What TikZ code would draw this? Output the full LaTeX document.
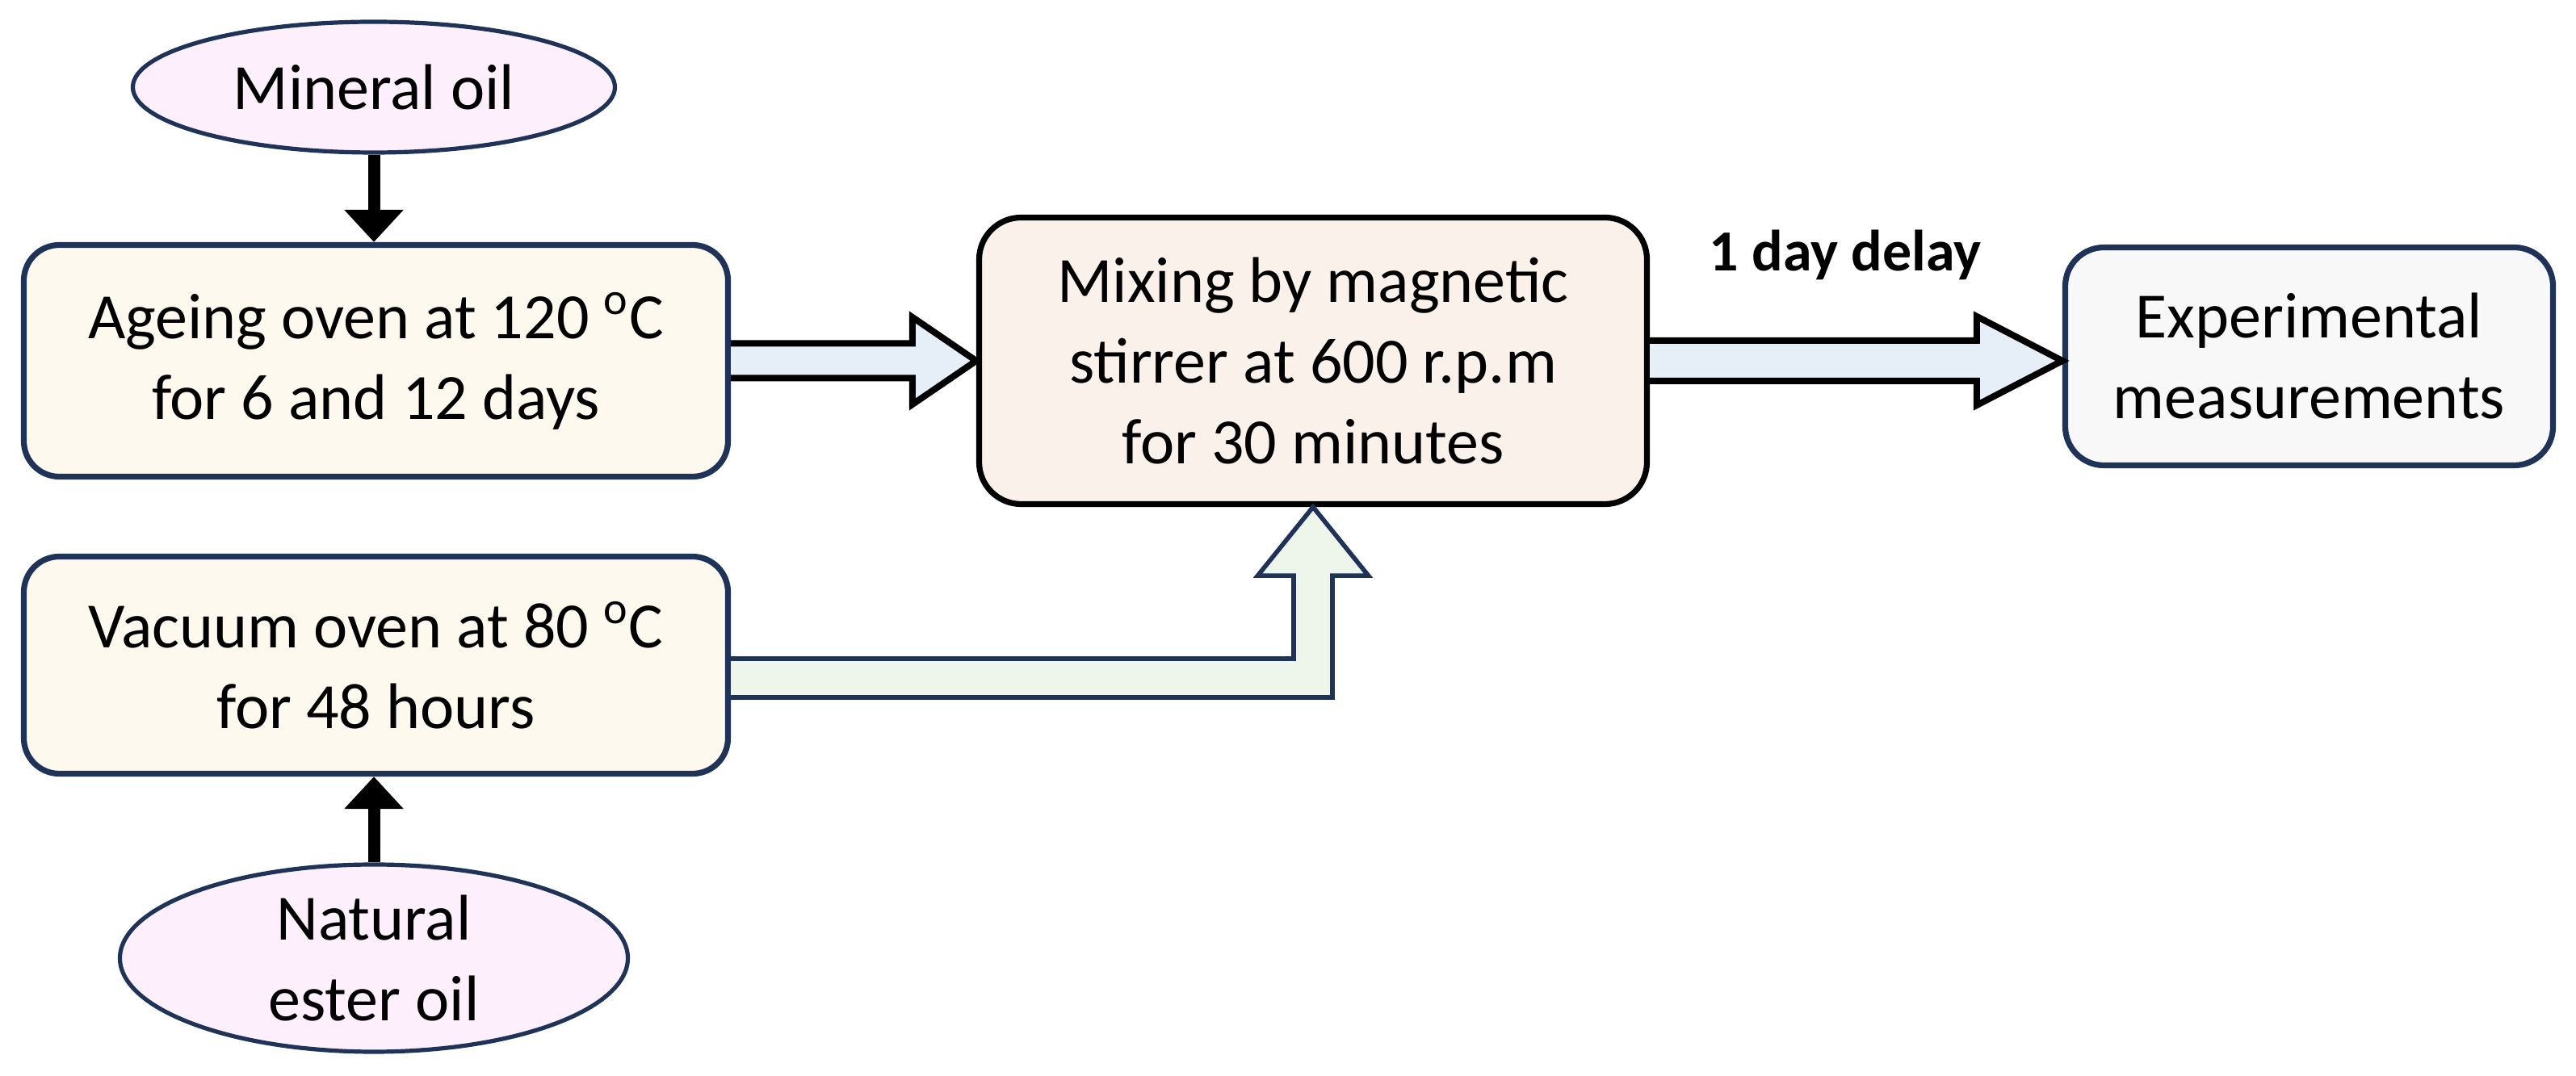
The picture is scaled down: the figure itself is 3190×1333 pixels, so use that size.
\documentclass[tikz,border=0pt]{standalone}
\usepackage{fontspec}
\setmainfont{Carlito}
\usetikzlibrary{shapes.geometric,arrows.meta,calc}
\definecolor{navy}{HTML}{1F3258}
\definecolor{pinkfill}{HTML}{FDF0FC}
\definecolor{creamfill}{HTML}{FEF9EE}
\definecolor{peachfill}{HTML}{FBF1EB}
\definecolor{greyfill}{HTML}{F8F8F8}
\definecolor{bluefill}{HTML}{E6EEF8}
\definecolor{greenfill}{HTML}{EEF5EA}
\tikzset{
  txt/.style={font=\fontsize{20pt}{25pt}\selectfont, align=center, text=black},
  oilnode/.style={txt, ellipse, draw=navy, line width=1.3pt, fill=pinkfill, inner sep=0pt},
  ovenbox/.style={txt, rectangle, rounded corners=11pt, draw=navy, line width=1.8pt, fill=creamfill, inner sep=0pt},
  mixbox/.style={txt, rectangle, rounded corners=13pt, draw=black, line width=1.8pt, fill=peachfill, inner sep=0pt},
  measbox/.style={txt, rectangle, rounded corners=12pt, draw=navy, line width=1.8pt, fill=greyfill, inner sep=0pt},
  blockblue/.style={draw=black, line width=2pt, fill=bluefill, line join=miter},
  blockgreen/.style={draw=navy, line width=1.4pt, fill=greenfill, line join=miter},
  feed/.style={line width=3.75pt, -{Triangle[width=17.75pt,length=10pt]}},
}
\begin{document}
\begin{tikzpicture}[x=0.25pt, y=-0.25pt]
\useasboundingbox (0,0) rectangle (3190,1333);

% nodes
\node[oilnode, minimum width=149.25pt, minimum height=40.5pt] (ell1) at (463,108) {Mineral oil};
\node[ovenbox, minimum width=218pt, minimum height=71.75pt] (box1) at (465.5,447) {Ageing oven at 120 \textsuperscript{o}C\\for 6 and 12 days};
\node[ovenbox, minimum width=218pt, minimum height=67.25pt] (box2) at (465.5,824) {Vacuum oven at 80 \textsuperscript{o}C\\for 48 hours};
\node[oilnode, minimum width=157.25pt, minimum height=58pt] (ell2) at (463,1187) {Natural\\ester oil};
\node[mixbox, minimum width=206.75pt, minimum height=88.75pt] (box3) at (1626,447) {Mixing by magnetic\\stirrer at 600 r.p.m\\for 30 minutes};
\node[measbox, minimum width=151pt, minimum height=67.5pt] (box4) at (2859.5,441.5) {Experimental\\measurements};
\node[font=\bfseries\fontsize{18pt}{22pt}\selectfont, anchor=base] (delay) at (2285,336) {1 day delay};

% thin black arrows
\draw[feed] (ell1.south) -- (ell1.south |- box1.north);
\draw[feed] (ell2.north) -- (ell2.north |- box2.south);

% blue block arrow 1: box1 -> box3
\path[blockblue] ($(box1.east)+(0,-21.5)$) -- ($(box3.west)+(-79,-21.5)$) -- ($(box3.west)+(-79,-54)$) -- (box3.west) -- ($(box3.west)+(-79,54)$) -- ($(box3.west)+(-79,21.5)$) -- ($(box1.east)+(0,21.5)$);

% blue block arrow 2: box3 -> box4
\coordinate (t2) at (box4.west |- box3.east);
\path[blockblue] ($(box3.east)+(0,-25)$) -- ($(t2)+(-106,-25)$) -- ($(t2)+(-106,-55)$) -- (t2) -- ($(t2)+(-106,55)$) -- ($(t2)+(-106,25)$) -- ($(box3.east)+(0,25)$);

% green bent block arrow: box2 -> box3
\coordinate (gs) at ($(box2.east)+(0,16)$);
\coordinate (gc) at (box3.south |- gs);
\path[blockgreen] ($(gs)+(0,-24)$) -- ($(gc)+(-24,-24)$) -- ($(box3.south)+(-24,85)$) -- ($(box3.south)+(-68.5,85)$) -- (box3.south) -- ($(box3.south)+(68.5,85)$) -- ($(box3.south)+(24,85)$) -- ($(gc)+(24,24)$) -- ($(gs)+(0,24)$);
\end{tikzpicture}
\end{document}
